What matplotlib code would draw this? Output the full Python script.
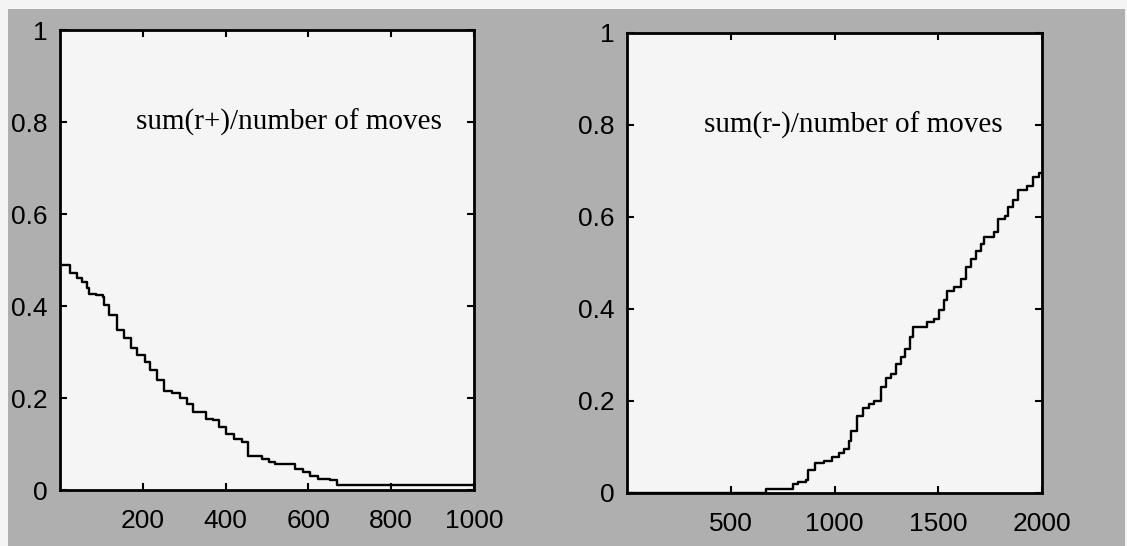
import matplotlib
matplotlib.use('Agg')
import matplotlib.pyplot as plt
from matplotlib.patches import Rectangle

# left panel: sum(r+)/number of moves
left_x = [8, 24, 40, 52, 66, 69, 87, 103, 107, 119, 137, 155, 171, 187, 206, 218,
          234, 250, 270, 290, 306, 321, 337, 353, 369, 385, 401, 421, 440, 455,
          488, 504, 520, 567, 587, 603, 623, 651, 669, 1000]
left_y = [0.490, 0.471, 0.460, 0.452, 0.439, 0.427, 0.423, 0.420, 0.403, 0.380,
          0.347, 0.330, 0.308, 0.294, 0.278, 0.260, 0.240, 0.216, 0.211, 0.201,
          0.187, 0.170, 0.169, 0.154, 0.153, 0.136, 0.121, 0.111, 0.105, 0.073,
          0.067, 0.061, 0.056, 0.045, 0.039, 0.031, 0.025, 0.022, 0.010, 0.010]

# right panel: sum(r-)/number of moves
right_x = [0, 669, 800, 824, 865, 873, 906, 947, 988, 1020, 1045, 1069, 1078, 1110,
           1135, 1167, 1192, 1224, 1249, 1273, 1298, 1322, 1339, 1363, 1380, 1445,
           1478, 1502, 1527, 1543, 1576, 1608, 1633, 1657, 1682, 1706, 1722, 1771,
           1788, 1820, 1837, 1861, 1886, 1927, 1959, 1984, 2000]
right_y = [0, 0.009, 0.019, 0.024, 0.028, 0.05, 0.066, 0.07, 0.078, 0.086, 0.095,
           0.114, 0.134, 0.167, 0.184, 0.193, 0.2, 0.231, 0.25, 0.258, 0.28, 0.295,
           0.314, 0.34, 0.36, 0.371, 0.379, 0.398, 0.42, 0.44, 0.447, 0.466, 0.492,
           0.508, 0.527, 0.542, 0.557, 0.568, 0.595, 0.602, 0.621, 0.636, 0.659,
           0.667, 0.686, 0.695, 0.695]

y_ticks = [0, 0.2, 0.4, 0.6, 0.8, 1]
y_labels = ['0', '0.2', '0.4', '0.6', '0.8', '1']
left_xticks = [200, 400, 600, 800, 1000]
right_xticks = [500, 1000, 1500, 2000]

W, H = 1127, 546
fig = plt.figure(figsize=(W / 100, H / 100), dpi=100, facecolor='#f4f4f4')

# scanned grey backdrop, kept behind the axes
fig.add_artist(Rectangle((8 / W, 0), 1 - 10 / W, 1 - 9 / H,
                         transform=fig.transFigure, facecolor='#afafaf',
                         edgecolor='none', zorder=-10))

panels = [
    ((60, 30, 474, 490), left_x, left_y, (0, 1000), left_xticks,
     'sum(r+)/number of moves', 184),
    ((627, 33, 1042, 493), right_x, right_y, (0, 2000), right_xticks,
     'sum(r-)/number of moves', 370),
]

for (x0, y0, x1, y1), xs, ys, xlim, xt, label, tx in panels:
    ax = fig.add_axes([x0 / W, (H - y1) / H, (x1 - x0) / W, (y1 - y0) / H])
    ax.set_facecolor('#f5f5f5')
    ax.step(xs, ys, where='post', color='black', linewidth=1.7)
    ax.set_xlim(*xlim)
    ax.set_ylim(0, 1)
    ax.set_xticks(xt)
    ax.set_xticklabels([str(v) for v in xt])
    ax.set_yticks(y_ticks)
    ax.set_yticklabels(y_labels)
    ax.tick_params(direction='in', length=5, width=1.5, top=True, right=True,
                   labelsize=19, pad=9, colors='black')
    ax.tick_params(axis='x', pad=14)
    for lbl in ax.get_xticklabels() + ax.get_yticklabels():
        lbl.set_family('Liberation Sans')
    for s in ax.spines.values():
        s.set_linewidth(2)
    ax.text(tx, 0.8, label, family='Liberation Serif', fontsize=21,
            va='center', ha='left')

plt.savefig('out.png', dpi=100, facecolor=fig.get_facecolor())
print("Saved: out.png")
